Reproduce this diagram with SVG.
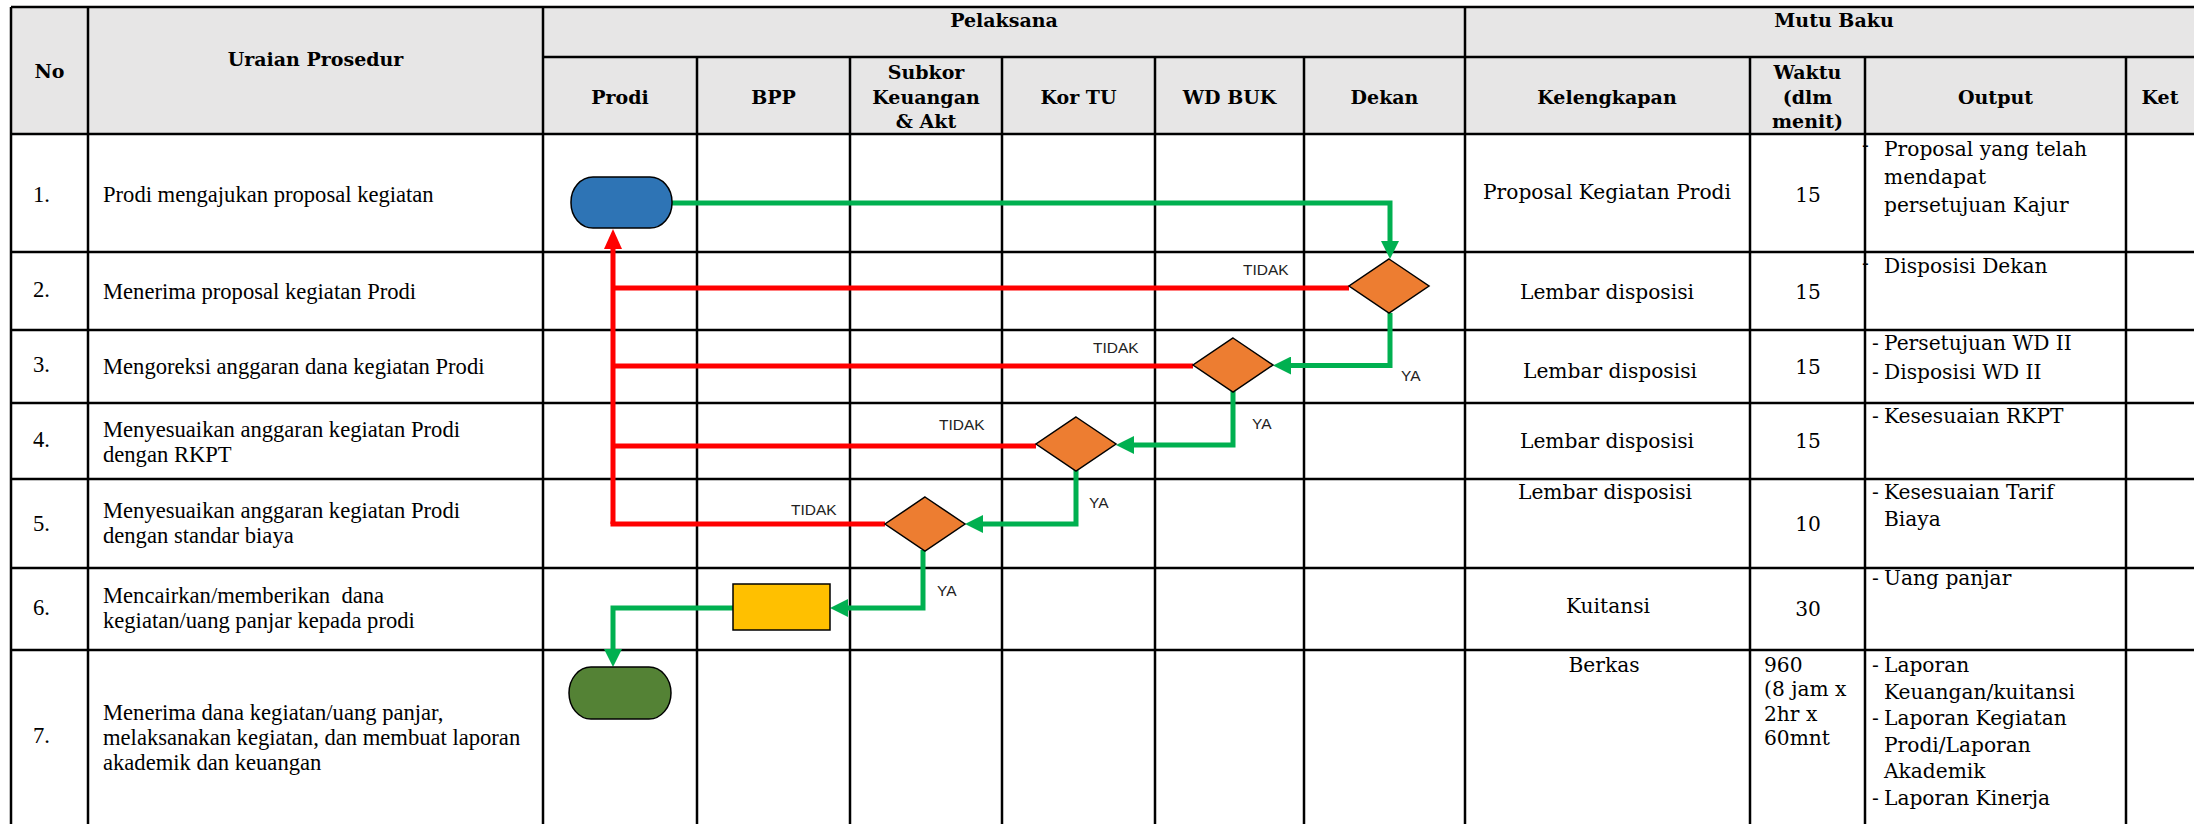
<svg xmlns="http://www.w3.org/2000/svg" width="2194" height="824" viewBox="0 0 2194 824">
<style>
.grid{stroke:#000;stroke-width:2.5;fill:none}
.hd{font-family:"DejaVu Serif",serif;font-weight:bold;font-size:19px;fill:#000;text-anchor:middle}
.ur{font-family:"Liberation Serif",serif;font-size:22.6px;fill:#000}
.bd{font-family:"DejaVu Serif",serif;font-size:20.2px;fill:#000}
.c{text-anchor:middle}
.lbl{font-family:"Liberation Sans",sans-serif;font-size:15.5px;fill:#222}
.red{stroke:#FF0000;stroke-width:5;fill:none}
.grn{stroke:#00B050;stroke-width:5;fill:none}
.dia{fill:#ED7D31;stroke:#000;stroke-width:1.5}
</style>
<defs>
<marker id="ag" markerUnits="userSpaceOnUse" viewBox="0 -9 18 18" refX="0" refY="0" markerWidth="18" markerHeight="18" orient="auto"><path d="M0,-9 L18,0 L0,9 z" fill="#00B050"/></marker>
<marker id="ar" markerUnits="userSpaceOnUse" viewBox="0 -9 20 18" refX="0" refY="0" markerWidth="20" markerHeight="18" orient="auto"><path d="M0,-9 L20,0 L0,9 z" fill="#FF0000"/></marker>
</defs>
<rect x="0" y="0" width="2194" height="824" fill="#fff"/>
<g id="table">
<rect x="11" y="7" width="2192" height="127" fill="#E7E6E6"/>
<path class="grid" d="M11,7H2203M543,57H2203M11,134H2203M11,252H2203M11,330H2203M11,403H2203M11,479H2203M11,568H2203M11,650H2203M11,7V830M88,7V830M543,7V830M697,57V830M850,57V830M1002,57V830M1155,57V830M1304,57V830M1465,7V830M1750,57V830M1865,57V830M2126,57V830"/>
<text class="hd" x="49.5" y="78">No</text>
<text class="hd" x="315.5" y="66">Uraian Prosedur</text>
<text class="hd" x="1004" y="27">Pelaksana</text>
<text class="hd" x="1834" y="27">Mutu Baku</text>
<text class="hd" x="620" y="104">Prodi</text>
<text class="hd" x="773.5" y="104">BPP</text>
<text class="hd" x="926" y="79">Subkor</text>
<text class="hd" x="926" y="103.5">Keuangan</text>
<text class="hd" x="926" y="128">&amp; Akt</text>
<text class="hd" x="1078.5" y="104">Kor TU</text>
<text class="hd" x="1229.5" y="104">WD BUK</text>
<text class="hd" x="1384.5" y="104">Dekan</text>
<text class="hd" x="1607" y="104">Kelengkapan</text>
<text class="hd" x="1807.5" y="79">Waktu</text>
<text class="hd" x="1807.5" y="104">(dlm</text>
<text class="hd" x="1807.5" y="128">menit)</text>
<text class="hd" x="1995.5" y="104">Output</text>
<text class="hd" x="2160" y="104">Ket</text>
</g>
<g id="uraian">
<text class="ur" x="33" y="202">1.</text>
<text class="ur" x="103" y="202">Prodi mengajukan proposal kegiatan</text>
<text class="ur" x="33" y="297">2.</text>
<text class="ur" x="103" y="299">Menerima proposal kegiatan Prodi</text>
<text class="ur" x="33" y="372">3.</text>
<text class="ur" x="103" y="374">Mengoreksi anggaran dana kegiatan Prodi</text>
<text class="ur" x="33" y="447">4.</text>
<text class="ur" x="103" y="437">Menyesuaikan anggaran kegiatan Prodi</text>
<text class="ur" x="103" y="462">dengan RKPT</text>
<text class="ur" x="33" y="531">5.</text>
<text class="ur" x="103" y="518">Menyesuaikan anggaran kegiatan Prodi</text>
<text class="ur" x="103" y="543">dengan standar biaya</text>
<text class="ur" x="33" y="615">6.</text>
<text class="ur" x="103" y="603" xml:space="preserve">Mencairkan/memberikan  dana</text>
<text class="ur" x="103" y="628">kegiatan/uang panjar kepada prodi</text>
<text class="ur" x="33" y="743">7.</text>
<text class="ur" x="103" y="720">Menerima dana kegiatan/uang panjar,</text>
<text class="ur" x="103" y="745">melaksanakan kegiatan, dan membuat laporan</text>
<text class="ur" x="103" y="770">akademik dan keuangan</text>
</g>
<g id="mutu">
<text class="bd c" x="1607" y="199">Proposal Kegiatan Prodi</text>
<text class="bd c" x="1607" y="299">Lembar disposisi</text>
<text class="bd c" x="1610" y="378">Lembar disposisi</text>
<text class="bd c" x="1607" y="448">Lembar disposisi</text>
<text class="bd c" x="1605" y="499">Lembar disposisi</text>
<text class="bd c" x="1608" y="613">Kuitansi</text>
<text class="bd c" x="1604" y="672">Berkas</text>
<text class="bd c" x="1808" y="202">15</text>
<text class="bd c" x="1808" y="299">15</text>
<text class="bd c" x="1808" y="374">15</text>
<text class="bd c" x="1808" y="448">15</text>
<text class="bd c" x="1808" y="531">10</text>
<text class="bd c" x="1808" y="616">30</text>
<text class="bd" x="1764" y="672">960</text>
<text class="bd" x="1764" y="696">(8 jam x</text>
<text class="bd" x="1764" y="721">2hr x</text>
<text class="bd" x="1764" y="745">60mnt</text>
<text class="bd" x="1862" y="152">-</text>
<text class="bd" x="1884" y="156">Proposal yang telah</text>
<text class="bd" x="1884" y="184">mendapat</text>
<text class="bd" x="1884" y="212">persetujuan Kajur</text>
<text class="bd" x="1862" y="270">-</text>
<text class="bd" x="1884" y="273">Disposisi Dekan</text>
<text class="bd" x="1872" y="350">-</text>
<text class="bd" x="1884" y="350">Persetujuan WD II</text>
<text class="bd" x="1872" y="379">-</text>
<text class="bd" x="1884" y="379">Disposisi WD II</text>
<text class="bd" x="1872" y="423">-</text>
<text class="bd" x="1884" y="423">Kesesuaian RKPT</text>
<text class="bd" x="1872" y="499">-</text>
<text class="bd" x="1884" y="499">Kesesuaian Tarif</text>
<text class="bd" x="1884" y="526">Biaya</text>
<text class="bd" x="1872" y="585">-</text>
<text class="bd" x="1884" y="585">Uang panjar</text>
<text class="bd" x="1872" y="672">-</text>
<text class="bd" x="1884" y="672">Laporan</text>
<text class="bd" x="1884" y="699">Keuangan/kuitansi</text>
<text class="bd" x="1872" y="725">-</text>
<text class="bd" x="1884" y="725">Laporan Kegiatan</text>
<text class="bd" x="1884" y="752">Prodi/Laporan</text>
<text class="bd" x="1884" y="778">Akademik</text>
<text class="bd" x="1872" y="805">-</text>
<text class="bd" x="1884" y="805">Laporan Kinerja</text>
</g>
<g id="connectors">
<path class="red" d="M613,524V249" marker-end="url(#ar)"/>
<path class="red" d="M1349,288H613"/>
<path class="red" d="M1193,366H613"/>
<path class="red" d="M1036,446H613"/>
<path class="red" d="M885,524H610.5"/>
<path class="grn" d="M672,203H1390V241" marker-end="url(#ag)"/>
<path class="grn" d="M1390,313V365.5H1291" marker-end="url(#ag)"/>
<path class="grn" d="M1233,391V445H1134" marker-end="url(#ag)"/>
<path class="grn" d="M1076,470V524H983" marker-end="url(#ag)"/>
<path class="grn" d="M923,550V608H848" marker-end="url(#ag)"/>
<path class="grn" d="M733,608H613V649" marker-end="url(#ag)"/>
<text class="lbl" x="1243" y="275">TIDAK</text>
<text class="lbl" x="1093" y="353">TIDAK</text>
<text class="lbl" x="939" y="430">TIDAK</text>
<text class="lbl" x="791" y="515">TIDAK</text>
<text class="lbl" x="1401" y="381">YA</text>
<text class="lbl" x="1252" y="429">YA</text>
<text class="lbl" x="1089" y="508">YA</text>
<text class="lbl" x="937" y="596">YA</text>
</g>
<g id="n1"><rect x="571" y="177" width="101" height="51" rx="22" ry="25" fill="#2E74B5" stroke="#000" stroke-width="1.5"/></g>
<g id="d1"><polygon class="dia" points="1389,259 1429,286 1389,313 1349,286"/></g>
<g id="d2"><polygon class="dia" points="1233,338 1273,365 1233,392 1193,365"/></g>
<g id="d3"><polygon class="dia" points="1076,417 1116,444 1076,471 1036,444"/></g>
<g id="d4"><polygon class="dia" points="925,497 965,524 925,551 885,524"/></g>
<g id="n6"><rect x="733" y="584" width="97" height="46" fill="#FFC000" stroke="#000" stroke-width="1.5"/></g>
<g id="n7"><rect x="569" y="667" width="102" height="52" rx="22" ry="26" fill="#548235" stroke="#000" stroke-width="1.5"/></g>
</svg>
